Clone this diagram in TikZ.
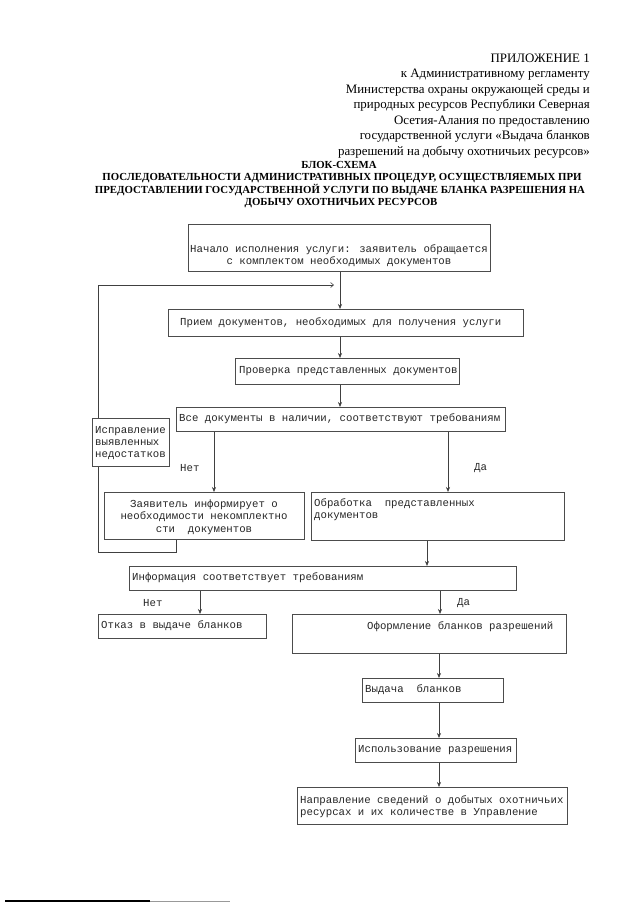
\documentclass[tikz,border=0pt]{standalone}
\usepackage{fontspec}
\setmainfont{Liberation Serif}
\newfontfamily\cour{Liberation Mono}
\usetikzlibrary{arrows.meta}
\newcommand\mkbox[5]{\node[box, minimum width={(#4-#2)*1pt}, minimum height={(#5-#3)*1pt}] (#1) at (#2,#3) {};}
\begin{document}
\begin{tikzpicture}[x=1pt,y=-1pt,
  box/.style={draw=black!70, line width=0.6pt, inner sep=0pt, anchor=north west},
  txt/.style={font=\cour\fontsize{10.7}{12.3}\selectfont, inner sep=0pt, anchor=west, align=left, text=black!85},
  hdr/.style={font=\fontsize{12.9}{15}\selectfont, inner sep=0pt, anchor=base east},
  ttl/.style={font=\bfseries\fontsize{10.8}{13}\selectfont, inner sep=0pt, anchor=base},
  conn/.style={draw=black!75, line width=0.6pt},
  arr/.style={conn, -{Stealth[length=5pt,width=4pt]}},
  barb/.style={conn, -{Straight Barb[length=3pt,width=5pt]}}]
\useasboundingbox (0,0) rectangle (640,905);
\fill[white] (0,0) rectangle (640,905);
% header
\node[hdr] (h1) at (590,62) {ПРИЛОЖЕНИЕ 1};
\node[hdr] (h2) at (590,77.5) {к Административному регламенту};
\node[hdr] (h3) at (590,93) {Министерства охраны окружающей среды и};
\node[hdr] (h4) at (590,108.5) {природных ресурсов Республики Северная};
\node[hdr] (h5) at (590,124) {Осетия-Алания по предоставлению};
\node[hdr] (h6) at (590,139.5) {государственной услуги «Выдача бланков};
\node[hdr] (h7) at (590,155) {разрешений на добычу охотничьих ресурсов»};
\node[ttl] (t1) at (339,168) {БЛОК-СХЕМА};
\node[ttl] (t2) at (342,180.5) {ПОСЛЕДОВАТЕЛЬНОСТИ АДМИНИСТРАТИВНЫХ ПРОЦЕДУР, ОСУЩЕСТВЛЯЕМЫХ ПРИ};
\node[ttl] (t3) at (340,193) {ПРЕДОСТАВЛЕНИИ ГОСУДАРСТВЕННОЙ УСЛУГИ ПО ВЫДАЧЕ БЛАНКА РАЗРЕШЕНИЯ НА};
\node[ttl] (t4) at (341,205.5) {ДОБЫЧУ ОХОТНИЧЬИХ РЕСУРСОВ};
% boxes
\mkbox{b1}{188}{224}{490}{271}
\mkbox{b2}{168}{309}{523}{336}
\mkbox{b3}{235}{358}{459}{384}
\mkbox{b4}{176}{407}{505}{431}
\mkbox{fix}{92}{418}{169}{466}
\mkbox{b5}{104}{492}{304}{539}
\mkbox{b6}{311}{492}{564}{540}
\mkbox{b7}{129}{566}{516}{590}
\mkbox{b8}{98}{614}{266}{638}
\mkbox{b9}{292}{614}{566}{653}
\mkbox{b10}{362}{678}{503}{702}
\mkbox{b11}{355}{738}{516}{762}
\mkbox{b12}{297}{787}{567}{824}
% texts
\node[txt, anchor=center, align=center] (s1) at (339,256) {Начало исполнения услуги: заявитель обращается\\с комплектом необходимых документов};
\node[txt] (s2) at (180,323) {Прием документов, необходимых для получения услуги};
\node[txt] (s3) at (239,371) {Проверка представленных документов};
\node[txt] (s4) at (179,419) {Все документы в наличии, соответствуют требованиям};
\node[txt] (sfix) at (95,443) {Исправление\\выявленных\\недостатков};
\node[txt, anchor=center, align=center] (s5) at (204,517) {Заявитель информирует о\\необходимости некомплектно\\сти\ \ документов};
\node[txt] (s6) at (314,510) {Обработка\ \ представленных\\документов};
\node[txt] (s7) at (132,578) {Информация соответствует требованиям};
\node[txt] (s8) at (101,626) {Отказ в выдаче бланков};
\node[txt] (s9) at (367,627) {Оформление бланков разрешений};
\node[txt] (s10) at (365,690) {Выдача\ \ бланков};
\node[txt] (s11) at (358,750) {Использование разрешения};
\node[txt] (s12) at (300,807) {Направление сведений о добытых охотничьих\\ресурсах и их количестве в Управление};
% labels
\node[txt] (n1) at (180,468) {Нет};
\node[txt] (d1) at (474,468) {Да};
\node[txt] (n2) at (143,603) {Нет};
\node[txt] (d2) at (457,603) {Да};
% x positions
\coordinate (xa) at (340,0);
\coordinate (xb) at (214,0);
\coordinate (xc) at (448,0);
\coordinate (xd) at (427,0);
\coordinate (xe) at (200,0);
\coordinate (xf) at (440,0);
\coordinate (xg) at (439,0);
% connectors
\draw[arr] (b1.south -| xa) -- (b2.north -| xa);
\draw[arr] (b2.south -| xa) -- (b3.north -| xa);
\draw[arr] (b3.south -| xa) -- (b4.north -| xa);
\draw[arr] (b4.south -| xb) -- (b5.north -| xb);
\draw[arr] (b4.south -| xc) -- (b6.north -| xc);
\draw[arr] (b6.south -| xd) -- (b7.north -| xd);
\draw[arr] (b7.south -| xe) -- (b8.north -| xe);
\draw[arr] (b7.south -| xf) -- (b9.north -| xf);
\draw[arr] (b9.south -| xg) -- (b10.north -| xg);
\draw[arr] (b10.south -| xg) -- (b11.north -| xg);
\draw[arr] (b11.south -| xg) -- (b12.north -| xg);
% loop
\coordinate (l1) at (176,552);
\coordinate (l2) at (98,552);
\coordinate (l3) at (98,285);
\coordinate (l4) at (334,285);
\draw[conn] (b5.south -| l1) -- (l1) -- (l2) -- (fix.south -| l2);
\draw[barb] (fix.north -| l2) -- (l3) -- (l4);
% footnote rule
\draw[line width=1.2pt] (5,901) -- (150,901);
\draw[black!40, line width=1pt] (150,901) -- (230,901);
\end{tikzpicture}
\end{document}
